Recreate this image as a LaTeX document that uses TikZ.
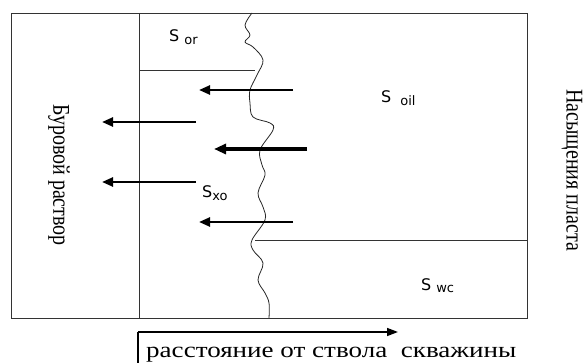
\documentclass[tikz,border=0pt]{standalone}
\usepackage{fontspec}
\setmainfont{Liberation Serif}
\newfontfamily\labfont{DejaVu Sans}
\usetikzlibrary{arrows.meta}
\newcommand{\sbs}[1]{\raisebox{-2.5pt}{\fontsize{13}{13}\selectfont #1}}
\begin{document}
\begin{tikzpicture}[x=1pt,y=-1pt,
  frame/.style={line width=0.9pt, draw=black!80},
  flow/.style={line width=2.4pt,-{Triangle[length=11pt,width=9pt]}},
  flowthick/.style={line width=3.2pt,-{Triangle[length=12pt,width=10pt]}},
  lab/.style={font=\labfont\fontsize{16}{16}\selectfont, inner sep=0pt, anchor=base west},
  vtext/.style={font=\fontsize{20}{20}\selectfont, rotate=-90, inner sep=0pt},
  wave/.style={line width=0.8pt, draw=black!85}]
\useasboundingbox (0,0) rectangle (588,363);
% frame
\draw[frame] (11,13) rectangle (527,318);
\coordinate (wt) at (139,13);
\coordinate (wb) at (139,318);
\draw[frame] (wt) -- (wb);
\coordinate (h1a) at (139,70);
\coordinate (h1b) at (255,70);
\draw[frame] (h1a) -- (h1b);
\coordinate (h2a) at (255,240);
\coordinate (h2b) at (527,240);
\draw[frame] (h2a) -- (h2b);
% wavy front
\draw[wave] plot[smooth, tension=0.6] coordinates {
 (252,13) (245,25) (250,35) (245,42) (253,47) (263,60) (257,75) (250,90)
 (250,103) (253,117) (270,123) (273,130) (260,150) (262,165) (265,175)
 (258,193) (263,207) (265,220) (252,240) (253,250) (263,263) (258,280)
 (265,293) (269,303) (269,318)};
% arrows
\coordinate (a1s) at (293,90);  \coordinate (a1e) at (199,90);
\coordinate (a2s) at (196,122); \coordinate (a2e) at (102,122);
\coordinate (a3s) at (307,149); \coordinate (a3e) at (214,149);
\coordinate (a4s) at (196,182); \coordinate (a4e) at (102,182);
\coordinate (a5s) at (293,222); \coordinate (a5e) at (199,222);
\draw[flow] (a1s) -- (a1e);
\draw[flow] (a2s) -- (a2e);
\draw[flowthick] (a3s) -- (a3e);
\draw[flow] (a4s) -- (a4e);
\draw[flow] (a5s) -- (a5e);
% labels
\node[lab] (sor) at (169,42) {S\hspace{5pt}\sbs{or}};
\node[lab] (soil) at (381,103) {S\hspace{9pt}\sbs{oil}};
\node[lab] (sxo) at (202,198) {S\sbs{xo}};
\node[lab] (swc) at (421,290) {S\hspace{5pt}\sbs{wc}};
% vertical texts
\node[vtext] (mud) at (59,175) {\scalebox{1}[1.2]{Буровой раствор}};
\node[vtext] (sat) at (572,170) {\scalebox{1}[1.2]{Насыщения пласта}};
% distance axis
\coordinate (ax0) at (138,363);
\coordinate (ax1) at (138,332);
\coordinate (ax2) at (398,332);
\draw[line width=1.5pt] (ax0) -- (ax1);
\draw[line width=1.5pt,-{Triangle[length=11pt,width=8pt]}] (ax1) -- (ax2);
\node[font=\fontsize{22}{22}\selectfont, inner sep=0pt, anchor=base west] (dist) at (146,357) {\scalebox{1.23}[1]{расстояние от ствола\ \ скважины}};
\end{tikzpicture}
\end{document}
